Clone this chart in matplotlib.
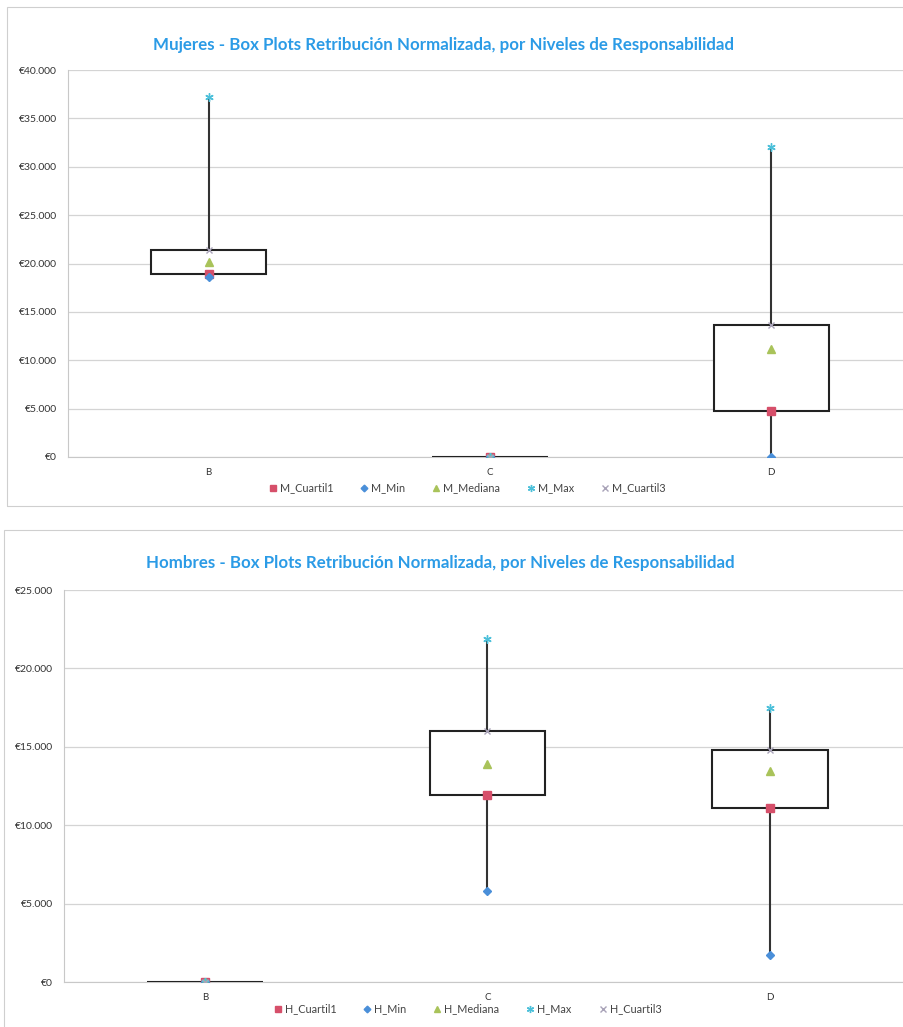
import matplotlib
matplotlib.use("Agg")
import matplotlib.pyplot as plt
from matplotlib.patches import Rectangle
from matplotlib.ticker import MultipleLocator, FuncFormatter

plt.rcParams['font.family'] = ['Lato', 'DejaVu Sans']

# Datos de los box plots (retribución normalizada, €)
niveles = ["B", "C", "D"]

m_min = [18600, 0, 0]
m_cuartil1 = [18900, 0, 4800]
m_mediana = [20200, 0, 11200]
m_cuartil3 = [21400, 0, 13600]
m_max = [37200, 0, 32000]

h_min = [0, 5800, 1700]
h_cuartil1 = [0, 11900, 11100]
h_mediana = [0, 13900, 13450]
h_cuartil3 = [0, 16000, 14800]
h_max = [0, 21900, 17500]

W, H = 904, 1027
fig = plt.figure(figsize=(W / 100, H / 100), dpi=100)
fig.patch.set_facecolor("white")


def px_axes(left, top, right, bottom):
    return fig.add_axes([left / W, 1 - bottom / H, (right - left) / W, (bottom - top) / H])


def euro(v, pos):
    return "€" + f"{v:,.0f}".replace(",", ".")


# marcos de cada gráfico
fig.patches.append(Rectangle((7 / W, 1 - 506 / H), 900 / W, 499 / H, transform=fig.transFigure,
                             fill=False, edgecolor="#cfcfcf", lw=0.8))
fig.patches.append(Rectangle((4 / W, 1 - 1030 / H), 903 / W, 500 / H, transform=fig.transFigure,
                             fill=False, edgecolor="#cfcfcf", lw=0.8))

c_q1 = "#d64f6a"
c_min = "#4a8fd9"
c_med = "#a9c35a"
c_max = "#4cc0da"
c_q3 = "#a9a3b8"


def box_chart(ax, mins, q1, med, q3, maxs, ymax, prefix):
    x = list(range(len(niveles)))
    bw = 0.41
    for i in x:
        ax.plot([i, i], [mins[i], q1[i]], color="#333333", lw=1.5, zorder=2)
        ax.plot([i, i], [q3[i], maxs[i]], color="#333333", lw=1.5, zorder=2)
        ax.add_patch(Rectangle((i - bw / 2, q1[i]), bw, q3[i] - q1[i], facecolor="white",
                               edgecolor="#222222", lw=1.5, zorder=3))
    ax.plot(x, q1, ls="none", marker="s", ms=5.5, color=c_q1, label=prefix + "_Cuartil1", zorder=5)
    ax.plot(x, mins, ls="none", marker="D", ms=4, color=c_min, label=prefix + "_Min", zorder=5)
    ax.plot(x, med, ls="none", marker="^", ms=5.5, color=c_med, label=prefix + "_Mediana", zorder=5)
    ax.plot(x, maxs, ls="none", marker=(6, 2, 0), ms=6, mew=1, color=c_max,
            label=prefix + "_Max", zorder=5)
    ax.plot(x, q3, ls="none", marker="x", ms=5, mew=1, color=c_q3, label=prefix + "_Cuartil3", zorder=5)

    ax.set_xlim(-0.5, 2.5)
    ax.set_ylim(0, ymax)
    ax.set_xticks(x)
    ax.set_xticklabels(niveles)
    ax.yaxis.set_major_locator(MultipleLocator(5000))
    ax.yaxis.set_major_formatter(FuncFormatter(euro))
    ax.grid(axis="y", color="#d4d4d4", lw=0.9, zorder=0)
    ax.set_axisbelow(True)
    for s in ["top", "right"]:
        ax.spines[s].set_visible(False)
    ax.spines["left"].set_color("#c8c8c8")
    ax.spines["bottom"].set_color("#c8c8c8")
    ax.tick_params(axis="both", length=0, colors="#333333")
    ax.tick_params(axis="y", pad=8, labelsize=7.5)
    ax.tick_params(axis="x", pad=8, labelsize=7)


def leyenda(ax, ycentro):
    ax.legend(loc="center", bbox_to_anchor=(467 / W, 1 - ycentro / H), bbox_transform=fig.transFigure,
              ncol=5, frameon=False, fontsize=7.8, handletextpad=0.2, columnspacing=2.4,
              handlelength=0.9, labelcolor="#444444", markerscale=0.85)


titulo = "{} - Box Plots Retribución Normalizada, por Niveles de Responsabilidad"

ax1 = px_axes(68, 70, 912, 457)
box_chart(ax1, m_min, m_cuartil1, m_mediana, m_cuartil3, m_max, 40000, "M")
fig.text(444 / W, 1 - 45 / H, titulo.format("Mujeres"),
         ha="center", va="center", fontsize=12.2, fontweight="bold", color="#2b9be6")
leyenda(ax1, 488)

ax2 = px_axes(64, 590, 911, 982)
box_chart(ax2, h_min, h_cuartil1, h_mediana, h_cuartil3, h_max, 25000, "H")
fig.text(440 / W, 1 - 563 / H, titulo.format("Hombres"),
         ha="center", va="center", fontsize=12.2, fontweight="bold", color="#2b9be6")
leyenda(ax2, 1009)

fig.savefig("out.png", dpi=100)
